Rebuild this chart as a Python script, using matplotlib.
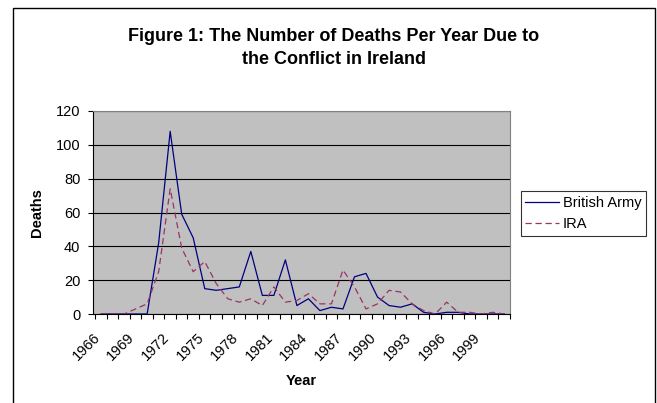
import numpy as np
import matplotlib
matplotlib.use('Agg')
from matplotlib import pyplot as plt
from matplotlib.patches import Rectangle

plt.rcParams['font.family'] = ['Liberation Sans', 'DejaVu Sans']

# data
years = list(range(1966, 2002))
army = [0, 0, 0, 0, 0, 42, 108, 59, 45, 15, 14, 15, 16, 37, 11, 11, 32, 5,
        9, 2, 4, 3, 22, 24, 10, 5, 4, 6, 1, 0, 1, 1, 0, 0, 0, 0]
ira = [0, 0, 0, 3, 6, 25, 74, 39, 25, 31, 18, 9, 7, 9, 5, 16, 7, 8,
       12, 6, 6, 26, 16, 3, 6, 14, 13, 6, 2, 0, 7, 1, 1, 0, 1, 0]
yticks = [0, 20, 40, 60, 80, 100, 120]

W, H = 657, 403
fig = plt.figure(figsize=(W/100, H/100), dpi=100)

# outer chart border (bottom edge is cut off in the picture)
fig.patches.append(Rectangle((13/W, -0.05), (655-13)/W, 1.05 - 8/H,
                             transform=fig.transFigure, fill=False,
                             edgecolor='black', linewidth=1.0))

ax = fig.add_axes([93/W, 1-314/H, (510-93)/W, (314-111)/H])
ax.set_facecolor('#C0C0C0')

x = np.arange(len(years))
ax.plot(x, army, color='#000080', linewidth=0.9, label='British Army')
ax.plot(x, ira, color='#993366', linewidth=0.9, dashes=(5, 3), label='IRA')

ax.set_xlim(-0.5, len(years) - 0.5)
ax.set_ylim(0, 120)
ax.set_yticks(yticks)
ax.yaxis.grid(True, color='black', linewidth=0.8)
ax.set_axisbelow(True)

# tick marks at category boundaries, labels every 3rd year
# (excel puts the end of the rotated text a bit left of the category centre)
ax.set_xticks(np.arange(-0.5, len(years), 1.0))
ax.set_xticklabels([])
lab_idx = x[::3]
ax.set_xticks(lab_idx - 0.7, minor=True)
ax.set_xticklabels([str(years[i]) for i in lab_idx], minor=True,
                   rotation=45, ha='right', va='top', rotation_mode='anchor')
ax.tick_params(axis='x', which='major', direction='out', length=3.6, width=0.8)
ax.tick_params(axis='x', which='minor', length=0, pad=11.5, labelsize=10.5)
ax.tick_params(axis='y', direction='out', length=3.6, width=0.8, pad=5.5,
               labelsize=10.5)

for s in ['top', 'right']:
    ax.spines[s].set_color('#808080')
    ax.spines[s].set_linewidth(0.8)
for s in ['left', 'bottom']:
    ax.spines[s].set_color('black')
    ax.spines[s].set_linewidth(0.8)

ax.set_xlabel('Year', fontsize=10.5, fontweight='bold')
ax.xaxis.set_label_coords(0.5, -(381-314)/(314-111), transform=ax.transAxes)
ax.xaxis.label.set_va('center')
ax.set_ylabel('Deaths', fontsize=10.5, fontweight='bold')
ax.yaxis.set_label_coords((37-93)/(510-93), 0.5, transform=ax.transAxes)
ax.yaxis.label.set_va('center')

fig.text(334/W, 1-48/H,
         'Figure 1: The Number of Deaths Per Year Due to\nthe Conflict in Ireland',
         ha='center', va='center', fontsize=13, fontweight='bold',
         linespacing=1.4)

leg = fig.legend(loc='center left', bbox_to_anchor=(521/W, 1-213.5/H),
                 fontsize=10.5, frameon=True, fancybox=False, shadow=False,
                 borderpad=0.3, handlelength=2.3, handletextpad=0.25,
                 labelspacing=0.5, borderaxespad=0)
leg.get_frame().set_edgecolor('black')
leg.get_frame().set_linewidth(0.8)

fig.savefig('out.png', dpi=100)
